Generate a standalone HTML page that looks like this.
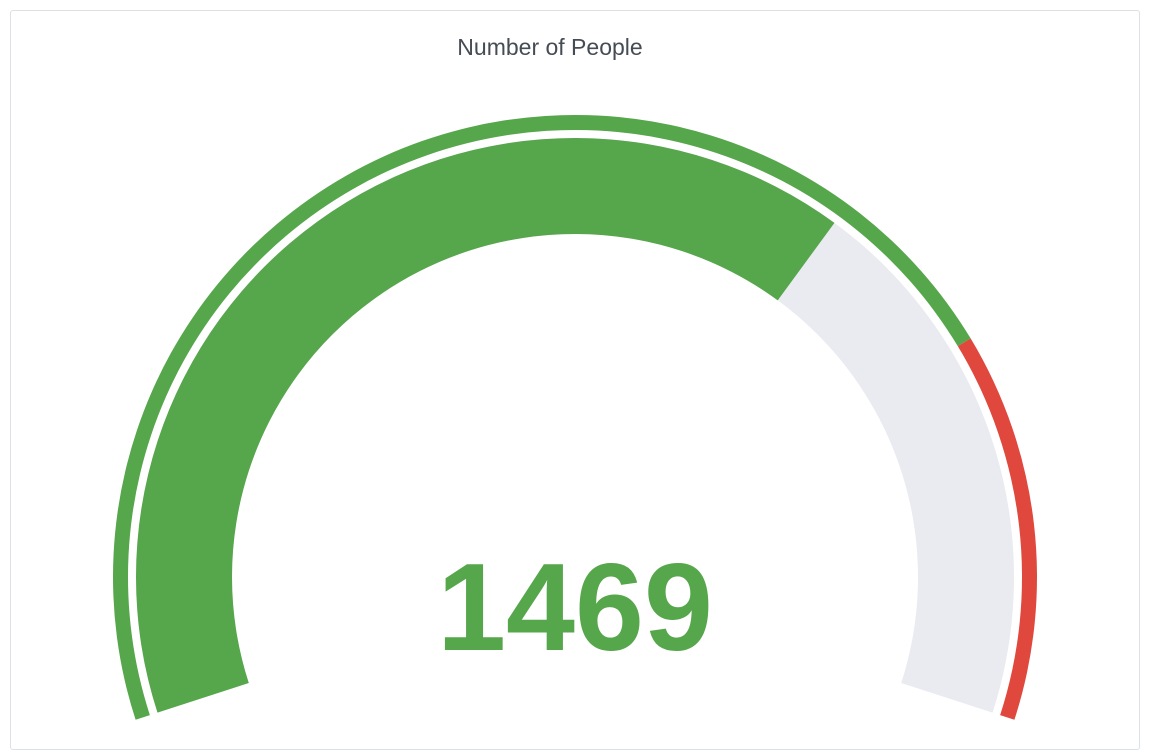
<!DOCTYPE html>
<html><head><meta charset="utf-8"><style>
html,body{margin:0;padding:0;background:#fff;}
body{width:1150px;height:756px;position:relative;overflow:hidden;font-family:"Liberation Sans",sans-serif;}
#panel{position:absolute;left:10px;top:10px;width:1128px;height:738px;border:1px solid #dce1e6;border-radius:3px;background:#fff;}
#title{position:absolute;left:0;top:34px;width:1100px;text-align:center;font-size:23px;color:#464c54;}
svg{position:absolute;left:0;top:0;}
</style></head><body>
<div id="panel"></div>
<div id="title">Number of People</div>
<svg id="g" width="1150" height="756"></svg>
<script>
const gaugeMin = [0];
const gaugeMax = [2200];
const gaugeValue = [1469];
const thresholdSteps = [0, 1700];
const thresholdColors = ["#56a64b", "#e0483e"];
const cx = 575, cy = 577, half = 18 * Math.PI / 180;
const a0 = Math.PI + half, sweep = Math.PI + 2 * half;
const svg = document.getElementById('g');
function ang(v){ return a0 - (v - gaugeMin[0]) / (gaugeMax[0] - gaugeMin[0]) * sweep; }
function pt(r,a){ return [cx + r*Math.cos(a), cy - r*Math.sin(a)]; }
function band(ri, ro, v1, v2, color, name){
  const s = ang(v1), e = ang(v2);
  const large = (s - e) > Math.PI ? 1 : 0;
  const p1 = pt(ro,s), p2 = pt(ro,e), p3 = pt(ri,e), p4 = pt(ri,s);
  const p = document.createElementNS('http://www.w3.org/2000/svg','path');
  p.setAttribute('d', `M${p1}A${ro},${ro} 0 ${large} 1 ${p2}L${p3}A${ri},${ri} 0 ${large} 0 ${p4}Z`);
  p.setAttribute('fill', color);
  
  
  svg.appendChild(p);
}
for (let i = 0; i < thresholdSteps.length; i++) {
  const end = i + 1 < thresholdSteps.length ? thresholdSteps[i+1] : gaugeMax[0];
  band(447, 462, thresholdSteps[i], end, thresholdColors[i], 'threshold-band-' + i);
}
band(343, 439, gaugeMin[0], gaugeMax[0], '#e9ebf0', 'gauge-track');
let col = thresholdColors[0];
thresholdSteps.forEach((t,i)=>{ if (gaugeValue[0] >= t) col = thresholdColors[i]; });
band(343, 439, gaugeMin[0], gaugeValue[0], col, 'gauge-value-bar');
const t = document.createElementNS('http://www.w3.org/2000/svg','text');
t.setAttribute('x', cx); t.setAttribute('y', 650);
t.setAttribute('text-anchor', 'middle');
t.setAttribute('font-family', 'Liberation Sans, sans-serif');
t.setAttribute('font-size', '124');
t.setAttribute('font-weight', 'bold');
t.setAttribute('fill', col);
t.textContent = gaugeValue[0];


svg.appendChild(t);
</script>
</body></html>
